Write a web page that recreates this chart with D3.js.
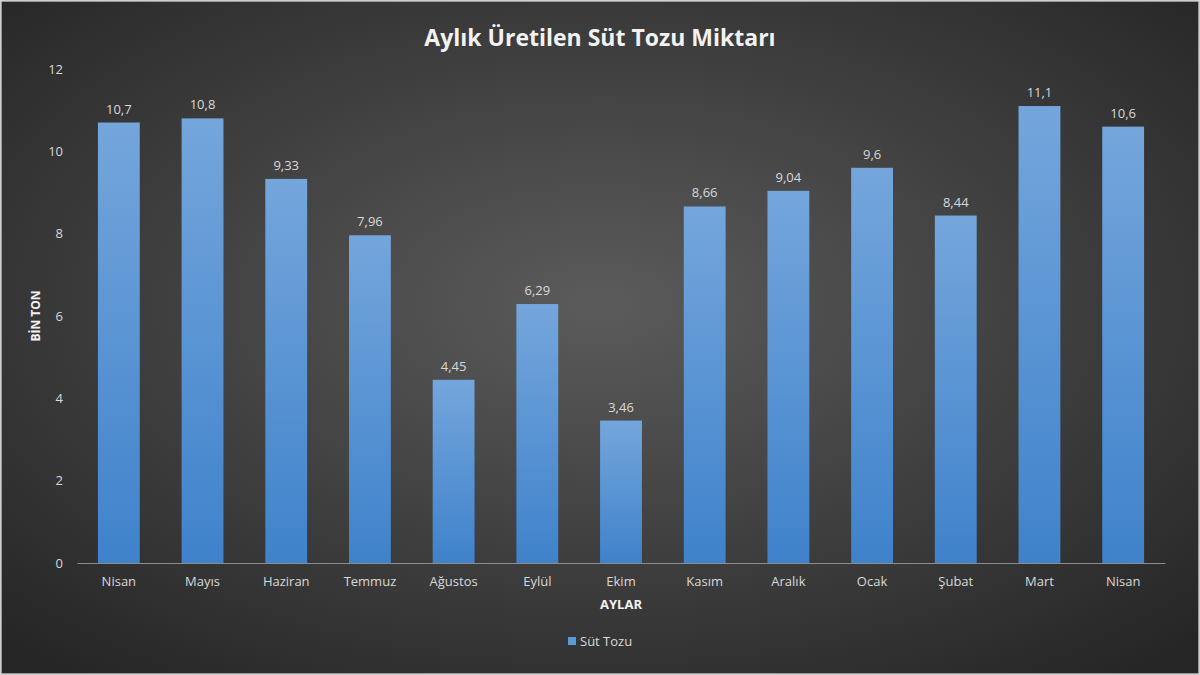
<!DOCTYPE html>
<html><head><meta charset="utf-8">
<script src="https://cdn.jsdelivr.net/npm/d3@7"></script>
<style>body{margin:0;background:#fff}</style>
</head><body><div id="chart"></div>
<script>
const months = ["Nisan","Mayıs","Haziran","Temmuz","Ağustos","Eylül","Ekim","Kasım","Aralık","Ocak","Şubat","Mart","Nisan"];
const values = [10.7,10.8,9.33,7.96,4.45,6.29,3.46,8.66,9.04,9.6,8.44,11.1,10.6];
const labels = ["10,7","10,8","9,33","7,96","4,45","6,29","3,46","8,66","9,04","9,6","8,44","11,1","10,6"];
const yTicks = [0,2,4,6,8,10,12];

const W = 1200, H = 675;
const margin = {top: 69, right: 35, bottom: 112, left: 77};
const innerW = W - margin.left - margin.right, innerH = H - margin.top - margin.bottom;
const font = "'Open Sans', 'Liberation Sans', sans-serif";

const svg = d3.select("#chart").append("svg").attr("width", W).attr("height", H);
const defs = svg.append("defs");
const bg = defs.append("radialGradient").attr("id","bg").attr("cx","50%").attr("cy","45%").attr("r","70%");
bg.append("stop").attr("offset","0%").attr("stop-color","#5b5b5b");
bg.append("stop").attr("offset","100%").attr("stop-color","#262626");
const bar = defs.append("linearGradient").attr("id","bar").attr("x1",0).attr("y1",0).attr("x2",0).attr("y2",1);
bar.append("stop").attr("offset","0%").attr("stop-color","#74a6dc");
bar.append("stop").attr("offset","100%").attr("stop-color","#3f82cb");

svg.append("rect").attr("x",1).attr("y",1).attr("width",W-2).attr("height",H-2)
  .attr("fill","url(#bg)").attr("stroke","#bfbfbf").attr("stroke-width",1.5);

svg.append("text").attr("x",W/2).attr("y",46).attr("text-anchor","middle")
  .attr("fill","#f2f2f2").attr("font-family",font).attr("font-weight","bold").attr("font-size",23)
  .text("Aylık Üretilen Süt Tozu Miktarı");

const x = d3.scaleBand().domain(d3.range(months.length)).range([0, innerW]).paddingInner(0.5).paddingOuter(0.25);
const y = d3.scaleLinear().domain([0,12]).range([innerH,0]);
const g = svg.append("g").attr("transform",`translate(${margin.left},${margin.top})`);

const yAxis = g.append("g").call(d3.axisLeft(y).tickValues(yTicks).tickSize(0).tickPadding(14));
yAxis.select(".domain").remove();
yAxis.selectAll("text").attr("fill","#d9d9d9").attr("font-family",font).attr("font-size",13);

const xAxis = g.append("g").attr("transform",`translate(0,${innerH})`)
  .call(d3.axisBottom(x).tickFormat(i => months[i]).tickSize(0).tickPadding(14));
xAxis.select(".domain").attr("stroke","#8c8c8c");
xAxis.selectAll("text").attr("fill","#d9d9d9").attr("font-family",font).attr("font-size",13);

g.selectAll("rect.bar").data(values).join("rect").attr("class","bar")
  .attr("x",(d,i)=>x(i)).attr("width",x.bandwidth())
  .attr("y",d=>y(d)).attr("height",d=>innerH-y(d)).attr("fill","url(#bar)");

g.selectAll("text.lbl").data(values).join("text").attr("class","lbl")
  .attr("x",(d,i)=>x(i)+x.bandwidth()/2).attr("y",d=>y(d)-9).attr("text-anchor","middle")
  .attr("fill","#d9d9d9").attr("font-family",font).attr("font-size",13).text((d,i)=>labels[i]);

svg.append("text").attr("x",margin.left+innerW/2).attr("y",609).attr("text-anchor","middle")
  .attr("fill","#f2f2f2").attr("font-family",font).attr("font-weight","bold").attr("font-size",13).text("AYLAR");
svg.append("text").attr("transform",`translate(40,${margin.top+innerH/2}) rotate(-90)`).attr("text-anchor","middle")
  .attr("fill","#f2f2f2").attr("font-family",font).attr("font-weight","bold").attr("font-size",12).text("BİN TON");

const lg = svg.append("g").attr("transform","translate(568,642)");
lg.append("rect").attr("x",0).attr("y",-5).attr("width",8).attr("height",8).attr("fill","#5b9bd5");
lg.append("text").attr("x",12).attr("y",4).attr("fill","#d9d9d9").attr("font-family",font).attr("font-size",13).text("Süt Tozu");
</script></body></html>
